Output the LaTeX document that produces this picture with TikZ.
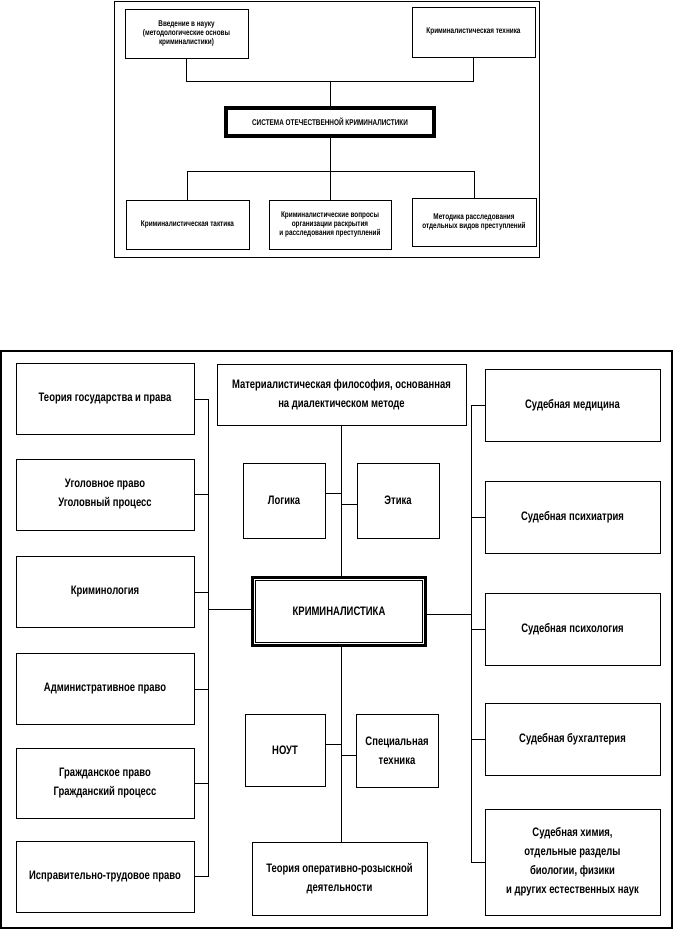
\documentclass[tikz,border=0pt]{standalone}
\usepackage{fontspec}
\setmainfont{Liberation Sans}[FakeStretch=0.77,UprightFont=*-Bold]
\begin{document}
\begin{tikzpicture}[x=1pt,y=-1pt,
  box/.style={draw, line width=0.9pt, align=center, inner sep=2pt},
  big/.style={font=\fontsize{12.3}{19}\selectfont},
  small/.style={font=\fontsize{8.3}{9.3}\selectfont},
  conn/.style={line width=0.9pt},
  frame/.style={line width=1.2pt},
  thickbox/.style={draw, line width=3.3pt, align=center, inner sep=2pt}]
\useasboundingbox (0,0) rectangle (674,929);
\fill[white] (0,0) rectangle (674,929);

% ---------- top diagram ----------
\draw[frame, line width=1pt] (114,1) rectangle (539,257);
\node[box, small, minimum width=123pt, minimum height=49pt] (intro) at (186.5,33.5)
  {Введение в науку\\(методологические основы\\криминалистики)};
\node[box, small, minimum width=123pt, minimum height=50pt] (tech) at (473.5,32)
  {Криминалистическая техника};
\node[thickbox, line width=2.6pt, small, minimum width=209pt, minimum height=29pt] (sys) at (330,122)
  {СИСТЕМА ОТЕЧЕСТВЕННОЙ КРИМИНАЛИСТИКИ};
\draw[line width=0.6pt] ([shift={(3.2pt,-3.2pt)}]sys.north west) rectangle ([shift={(-3.2pt,3.2pt)}]sys.south east);
\node[box, small, minimum width=123pt, minimum height=49pt] (tact) at (187.5,224.5)
  {Криминалистическая тактика};
\node[box, small, minimum width=122pt, minimum height=49pt] (quest) at (330,224.5)
  {Криминалистические вопросы\\организации раскрытия\\и расследования преступлений};
\node[box, small, minimum width=124pt, minimum height=48pt] (meth) at (474,222)
  {Методика расследования\\отдельных видов преступлений};
\coordinate (ub) at (0,81);
\coordinate (lb) at (0,171);
\draw[conn] (intro.south) -- (intro.south |- ub) -- (tech.south |- ub) -- (tech.south);
\draw[conn] (sys.north |- ub) -- (sys.north);
\draw[conn] (tact.north) -- (tact.north |- lb) -- (meth.north |- lb) -- (meth.north);
\draw[conn] (sys.south) -- (quest.north);

% ---------- bottom diagram ----------
\draw[frame] (1,351) rectangle (672,928);
% left column
\node[box, big, minimum width=178pt, minimum height=71pt] (l1) at (105,399) {Теория государства и права};
\node[box, big, minimum width=178pt, minimum height=71pt] (l2) at (105,494.5) {Уголовное право\\Уголовный процесс};
\node[box, big, minimum width=178pt, minimum height=71pt] (l3) at (105,592) {Криминология};
\node[box, big, minimum width=178pt, minimum height=71pt] (l4) at (105,689) {Административное право};
\node[box, big, minimum width=178pt, minimum height=70pt] (l5) at (105,783) {Гражданское право\\Гражданский процесс};
\node[box, big, minimum width=178pt, minimum height=71pt] (l6) at (105,876.5) {Исправительно-трудовое право};
% centre column
\node[box, big, minimum width=249pt, minimum height=61pt] (mphil) at (341.5,394.5)
  {Материалистическая философия, основанная\\на диалектическом методе};
\node[box, big, minimum width=82pt, minimum height=75pt] (logika) at (284,500.5) {Логика};
\node[box, big, minimum width=82pt, minimum height=75pt] (etika) at (398,500.5) {Этика};
\node[thickbox, big, minimum width=172.5pt, minimum height=67.5pt] (krim) at (339,611.5) {КРИМИНАЛИСТИКА};
\draw[line width=0.7pt] ([shift={(4.3pt,-4.3pt)}]krim.north west) rectangle ([shift={(-4.3pt,4.3pt)}]krim.south east);
\node[box, big, minimum width=80pt, minimum height=72pt] (nout) at (285,750) {НОУТ};
\node[box, big, minimum width=82pt, minimum height=73pt] (spec) at (397,750.5) {Специальная\\техника};
\node[box, big, minimum width=175pt, minimum height=73pt] (ord) at (339.5,878.5)
  {Теория оперативно-розыскной\\деятельности};
% right column
\node[box, big, minimum width=175pt, minimum height=72pt] (r1) at (572.5,405) {Судебная медицина};
\node[box, big, minimum width=175pt, minimum height=72pt] (r2) at (572.5,517) {Судебная психиатрия};
\node[box, big, minimum width=175pt, minimum height=72pt] (r3) at (572.5,629) {Судебная психология};
\node[box, big, minimum width=175pt, minimum height=72pt] (r4) at (572.5,739) {Судебная бухгалтерия};
\node[box, big, minimum width=175pt, minimum height=106pt] (r5) at (572.5,862)
  {Судебная химия,\\отдельные разделы\\биологии, физики\\и других естественных наук};

% buses
\coordinate (lbus) at (208,0);
\coordinate (rbus) at (471,0);
\coordinate (spx) at (341.5,0);
% left bus
\draw[conn] (l1.east) -- (l1.east -| lbus) -- (l6.east -| lbus) -- (l6.east);
\foreach \n in {l2,l3,l4,l5} \draw[conn] (\n.east) -- (\n.east -| lbus);
\coordinate (kl) at (0,609);
\draw[conn] (krim.west |- kl) -- (lbus |- kl);
% right bus
\draw[conn] (r1.west) -- (r1.west -| rbus) -- (r5.west -| rbus) -- (r5.west);
\foreach \n in {r2,r3,r4} \draw[conn] (\n.west) -- (\n.west -| rbus);
\coordinate (kr) at (0,614);
\draw[conn] (krim.east |- kr) -- (rbus |- kr);
% spine
\draw[conn] (mphil.south) -- (mphil.south |- krim.north);
\draw[conn] (spx |- krim.south) -- (spx |- ord.north);
\coordinate (yl) at (0,493);
\coordinate (ye) at (0,504);
\coordinate (yn) at (0,744);
\coordinate (ys) at (0,755);
\draw[conn] (logika.east |- yl) -- (spx |- yl);
\draw[conn] (etika.west |- ye) -- (spx |- ye);
\draw[conn] (nout.east |- yn) -- (spx |- yn);
\draw[conn] (spec.west |- ys) -- (spx |- ys);
\end{tikzpicture}
\end{document}
